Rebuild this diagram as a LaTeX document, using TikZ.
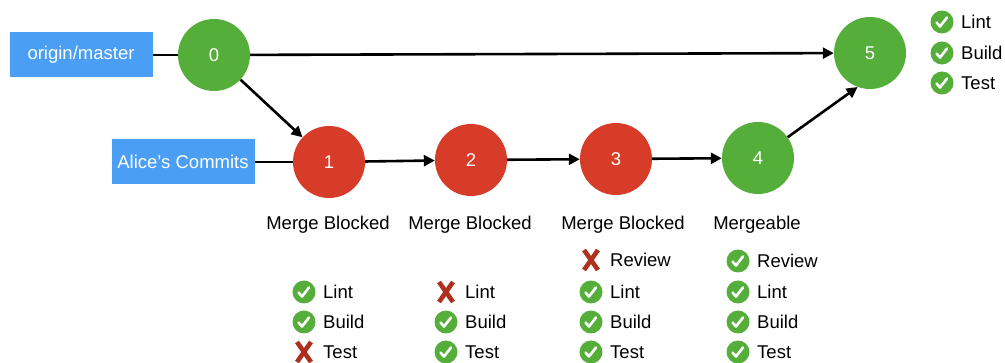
\documentclass[tikz,border=0pt]{standalone}
\usepackage{fontspec}
\setmainfont{Liberation Sans}
\usepackage{xcolor}
\usetikzlibrary{arrows.meta,positioning}
\definecolor{okgreen}{HTML}{55AE3A}
\definecolor{badred}{HTML}{D73C29}
\definecolor{crossred}{HTML}{B0301F}
\definecolor{branchblue}{HTML}{4A9FF5}
\tikzset{
 commit/.style={circle, minimum size=72pt, inner sep=0pt, text=white},
 branch/.style={fill=branchblue, text=white, minimum width=143pt, minimum height=45pt, inner sep=0pt},
 pass/.style={circle, fill=okgreen, minimum size=23pt, inner sep=0pt,
   path picture={\draw[white, line width=2.6pt, line cap=round, line join=round]
     (path picture bounding box.center) ++(-5.5,0.5) -- ++(3.5,4) -- ++(7,-9);}},
 fail/.style={rectangle, minimum width=24pt, minimum height=28pt, inner sep=0pt,
   path picture={\draw[crossred, line width=4.6pt]
     (path picture bounding box.center) +(-7,-10) -- +(7,10)
     (path picture bounding box.center) +(7,-10) -- +(-7,10);}},
 item/.style={inner sep=0pt, anchor=west},
 state/.style={inner sep=0pt},
 link/.style={line width=2.6pt},
 push/.style={line width=2.6pt, -{Triangle[length=11pt,width=11pt]}}
}
\begin{document}
\begin{tikzpicture}[x=1pt, y=-1pt, font=\fontsize{18.5}{21}\selectfont]
 \useasboundingbox (0,0) rectangle (1005,363);
 \node[branch] (master) at (81,55) {origin/master};
 \node[branch] (alice) at (183,162) {Alice’s Commits};
 \node[commit, fill=okgreen] (c0) at (214,55) {0};
 \node[commit, fill=badred] (c1) at (329,162) {1};
 \node[commit, fill=badred] (c2) at (471,160) {2};
 \node[commit, fill=badred] (c3) at (616,159) {3};
 \node[commit, fill=okgreen] (c4) at (758,158) {4};
 \node[commit, fill=okgreen] (c5) at (870,53) {5};
 \draw[link] (master) -- (c0);
 \draw[link] (alice) -- (c1);
 \draw[push] (c0) -- (c5);
 \draw[push] (c0) -- (c1);
 \draw[push] (c1) -- (c2);
 \draw[push] (c2) -- (c3);
 \draw[push] (c3) -- (c4);
 \draw[push] (c4.35) -- (c5.250);
 \node[state] (s1) at (328,225) {Merge Blocked};
 \node[state] (s2) at (470,225) {Merge Blocked};
 \node[state] (s3) at (623,225) {Merge Blocked};
 \node[state] (s4) at (757,225) {Mergeable};
 \foreach \n/\x/\y/\s/\t in {
   m-lint/942/22/pass/Lint, m-build/942/53/pass/Build, m-test/942/83/pass/Test,
   a-lint/304/292/pass/Lint, a-build/304/322/pass/Build, a-test/304/352/fail/Test,
   b-lint/446/292/fail/Lint, b-build/446/322/pass/Build, b-test/446/352/pass/Test,
   c-review/591/260/fail/Review, c-lint/591/292/pass/Lint, c-build/591/322/pass/Build, c-test/591/352/pass/Test,
   d-review/738/261/pass/Review, d-lint/738/292/pass/Lint, d-build/738/322/pass/Build, d-test/738/352/pass/Test}
 {
   \node[\s] (\n) at (\x,\y) {};
   \node[item] (\n-t) at ([xshift=19pt]\n.center) {\t};
 }
\end{tikzpicture}
\end{document}
